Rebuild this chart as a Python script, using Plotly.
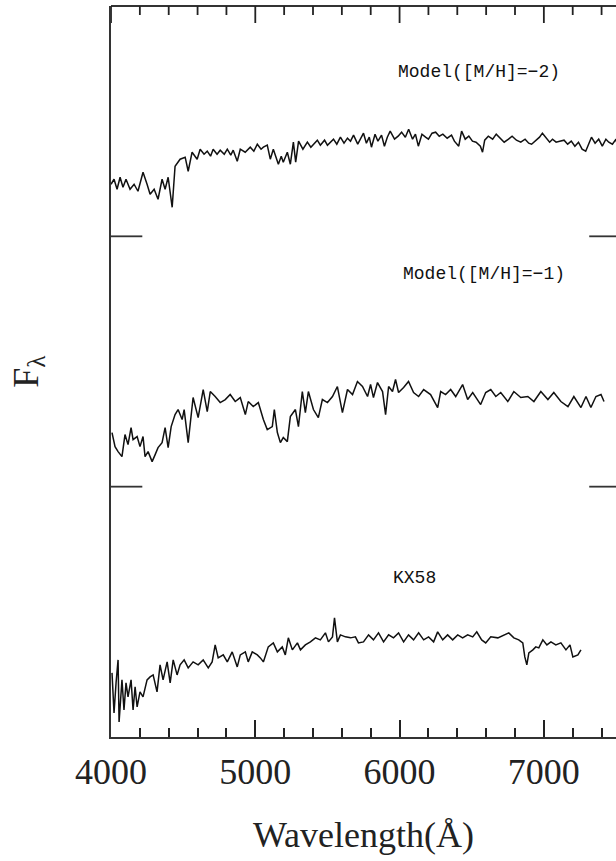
import plotly.graph_objects as go

# ---------------- data ----------------
# Model [M/H] = -2 (top spectrum, offset flux units)
wl_m2 = [4000, 4021, 4042, 4063, 4083, 4104, 4132, 4160, 4187, 4222, 4250, 4271, 4299, 4326,
         4354, 4375, 4396, 4424, 4444, 4479, 4514, 4535, 4562, 4597, 4618, 4645, 4667, 4690,
         4708, 4735, 4757, 4785, 4806, 4830, 4847, 4875, 4896, 4930, 4965, 4990, 5014, 5040,
         5056, 5083, 5104, 5125, 5160, 5180, 5194, 5222, 5243, 5264, 5280, 5300, 5330, 5361,
         5385, 5403, 5430, 5451, 5480, 5500, 5542, 5565, 5590, 5615, 5639, 5660, 5681, 5710,
         5735, 5750, 5770, 5790, 5805, 5830, 5850, 5875, 5895, 5915, 5935, 5965, 5990, 6014,
         6040, 6063, 6090, 6110, 6130, 6155, 6180, 6200, 6225, 6250, 6275, 6300, 6330, 6360,
         6380, 6410, 6430, 6455, 6480, 6505, 6530, 6560, 6575, 6590, 6615, 6645, 6670, 6700,
         6725, 6755, 6780, 6810, 6840, 6870, 6895, 6915, 6945, 6970, 6990, 7015, 7040, 7060,
         7085, 7110, 7140, 7165, 7190, 7215, 7240, 7265, 7290, 7310, 7330, 7355, 7380, 7405,
         7430, 7450, 7475, 7500, 7520]
fx_m2 = [55.2, 55.7, 54.7, 55.9, 54.9, 55.7, 54.7, 55.2, 54.5, 56.4, 55.2, 54.2, 54.7, 53.7,
         55.7, 54.7, 55.9, 52.9, 57.0, 57.7, 57.9, 56.5, 58.4, 57.7, 58.7, 58.2, 58.5, 58.0,
         58.7, 58.2, 58.6, 58.2, 58.7, 58.1, 58.6, 57.5, 58.7, 58.4, 58.9, 58.5, 59.2, 58.7,
         58.9, 59.1, 57.7, 58.7, 57.2, 58.0, 57.4, 58.4, 57.2, 59.4, 57.4, 59.5, 58.7, 59.4,
         58.9, 59.2, 59.6, 59.1, 59.6, 59.1, 59.7, 59.2, 59.9, 59.3, 59.8, 59.5, 60.1, 59.2,
         59.9, 60.3, 59.3, 59.9, 58.9, 60.2, 59.5, 60.1, 59.0, 59.9, 60.5, 59.7, 60.0, 60.4,
         59.9, 60.7, 59.7, 60.2, 59.0, 60.2, 59.9, 59.7, 60.3, 60.4, 60.0, 60.2, 59.8, 60.1,
         59.5, 59.0, 60.5, 59.7, 60.0, 59.5, 59.4, 59.0, 58.4, 59.6, 60.0, 59.7, 60.2, 59.8,
         59.4, 59.7, 60.0, 59.6, 59.4, 59.7, 59.3, 59.2, 59.6, 59.9, 60.3, 59.8, 59.4, 59.7,
         59.4, 59.5, 59.6, 59.2, 59.5, 59.0, 59.4, 58.7, 58.5, 59.2, 59.9, 59.3, 59.7, 59.0,
         59.7, 59.4, 59.2, 59.7, 58.4]

# Model [M/H] = -1 (middle spectrum)
wl_m1 = [4007, 4028, 4049, 4076, 4097, 4118, 4139, 4153, 4181, 4201, 4222, 4236, 4257, 4285,
         4306, 4326, 4354, 4375, 4396, 4417, 4444, 4465, 4493, 4507, 4535, 4569, 4604, 4639,
         4667, 4688, 4722, 4757, 4792, 4826, 4861, 4896, 4931, 4951, 4986, 5021, 5056, 5083,
         5118, 5132, 5153, 5174, 5194, 5222, 5243, 5278, 5299, 5326, 5347, 5368, 5403, 5437,
         5465, 5500, 5535, 5569, 5604, 5639, 5674, 5708, 5743, 5778, 5799, 5819, 5847, 5882,
         5903, 5924, 5951, 5972, 5993, 6028, 6062, 6097, 6132, 6167, 6215, 6264, 6285, 6319,
         6354, 6389, 6437, 6472, 6507, 6542, 6562, 6597, 6632, 6667, 6701, 6750, 6792, 6840,
         6889, 6931, 6979, 7028, 7069, 7118, 7167, 7208, 7257, 7292, 7326, 7361, 7396, 7417]
fx_m1 = [30.4, 29.0, 28.5, 28.0, 30.2, 29.2, 30.9, 29.7, 30.0, 29.0, 30.0, 28.0, 28.5, 27.5,
         28.2, 28.9, 29.4, 30.9, 28.9, 31.0, 32.2, 32.7, 31.7, 32.7, 29.4, 33.9, 31.9, 34.7,
         32.5, 34.5, 34.0, 33.4, 33.7, 34.2, 33.5, 33.9, 32.2, 33.5, 33.0, 33.4, 31.7, 30.7,
         31.0, 32.7, 30.4, 29.4, 29.9, 29.5, 32.0, 32.7, 31.0, 34.5, 32.4, 34.5, 32.7, 31.9,
         33.7, 33.4, 34.0, 35.0, 32.4, 34.7, 34.2, 35.5, 35.0, 34.0, 35.2, 33.9, 35.4, 34.5,
         32.2, 35.0, 34.5, 35.7, 34.4, 34.9, 35.5, 34.4, 34.0, 34.7, 34.2, 32.9, 34.5, 34.2,
         34.7, 34.0, 35.2, 33.7, 34.4, 33.7, 33.2, 34.4, 34.7, 34.0, 34.4, 33.5, 34.5, 33.9,
         34.0, 33.5, 34.5, 33.7, 34.4, 33.5, 33.0, 34.0, 32.9, 34.0, 32.9, 34.0, 34.2, 33.5]

# KX58 (bottom spectrum)
wl_kx = [4007, 4021, 4035, 4049, 4056, 4076, 4090, 4104, 4118, 4139, 4153, 4167, 4181, 4201,
         4222, 4250, 4271, 4292, 4319, 4340, 4361, 4389, 4410, 4431, 4458, 4479, 4507, 4535,
         4569, 4604, 4639, 4674, 4701, 4722, 4743, 4778, 4806, 4840, 4875, 4896, 4931, 4951,
         4979, 5014, 5035, 5056, 5090, 5125, 5153, 5187, 5208, 5229, 5257, 5292, 5313, 5347,
         5382, 5417, 5451, 5486, 5507, 5535, 5549, 5569, 5590, 5625, 5660, 5694, 5715, 5750,
         5785, 5819, 5854, 5889, 5924, 5958, 5993, 6028, 6062, 6097, 6132, 6167, 6201, 6236,
         6264, 6299, 6333, 6368, 6403, 6437, 6472, 6507, 6535, 6569, 6597, 6632, 6681, 6722,
         6757, 6792, 6826, 6854, 6868, 6882, 6896, 6924, 6944, 6965, 6993, 7021, 7049, 7083,
         7118, 7153, 7181, 7201, 7236, 7257]
fx_kx = [6.4, 2.4, 5.4, 7.7, 1.5, 5.7, 2.7, 5.4, 4.0, 5.7, 2.7, 5.0, 3.0, 4.5,
         4.0, 5.7, 6.0, 6.2, 4.5, 7.2, 5.7, 7.5, 5.4, 7.7, 6.2, 7.2, 7.7, 6.9,
         7.5, 7.2, 7.7, 6.9, 7.5, 9.2, 7.9, 8.2, 7.5, 8.5, 7.0, 8.2, 8.5, 7.5,
         8.5, 8.2, 7.9, 7.5, 9.0, 9.4, 8.5, 9.0, 8.2, 9.9, 8.7, 9.4, 8.7, 9.2,
         9.5, 9.9, 9.7, 10.4, 9.5, 10.0, 11.9, 9.5, 10.2, 10.0, 9.9, 10.0, 9.4, 9.5,
         10.2, 9.7, 10.4, 9.5, 10.2, 9.9, 10.4, 9.5, 10.2, 9.7, 10.4, 9.7, 10.0, 9.5,
         10.5, 9.7, 10.2, 9.7, 10.2, 9.9, 10.2, 10.0, 10.5, 9.7, 9.4, 10.0, 9.9, 10.2,
         10.4, 9.9, 9.7, 9.4, 8.0, 7.2, 8.4, 8.7, 9.0, 8.9, 9.7, 9.2, 9.5, 9.2,
         9.4, 8.7, 9.2, 8.0, 8.2, 8.7]

labels = ["Model([M/H]=\u22122)", "Model([M/H]=\u22121)", "KX58"]
label_wl = [6549, 6583, 6104]
label_fx = [66.4, 46.2, 15.9]
separators = [50.0, 25.0]
x_ticks = [4000, 5000, 6000, 7000]
minor_step = 200

# ---------------- figure ----------------
fig = go.Figure()
for wl, fx in [(wl_m2, fx_m2), (wl_m1, fx_m1), (wl_kx, fx_kx)]:
    fig.add_trace(go.Scatter(x=wl, y=fx, mode="lines",
                             line=dict(color="#111", width=1.5),
                             showlegend=False, hoverinfo="skip"))

for t, lx, ly in zip(labels, label_wl, label_fx):
    fig.add_annotation(x=lx, y=ly, xref="x", yref="y", text=t, showarrow=False,
                       font=dict(family="Liberation Mono", size=18, color="#111"),
                       xanchor="center", yanchor="middle")

for s in separators:
    fig.add_shape(type="line", xref="paper", yref="y", x0=0, x1=0.062, y0=s, y1=s,
                  line=dict(color="#333", width=1.8))
    fig.add_shape(type="line", xref="paper", yref="y", x0=0.947, x1=1.0, y0=s, y1=s,
                  line=dict(color="#333", width=1.8))

# top frame line with inward ticks (mirror of the bottom axis)
fig.add_shape(type="line", xref="paper", yref="paper", x0=0, x1=1, y0=1, y1=1,
              line=dict(color="#333", width=1.8), layer="above")
major_len = 17 / 731
minor_len = 9 / 731
for v in range(4000, 7501, minor_step):
    ln = major_len if v in x_ticks else minor_len
    fig.add_shape(type="line", xref="x", yref="paper", x0=v, x1=v, y0=1, y1=1 - ln,
                  line=dict(color="#222", width=1.8), layer="above")

# axis titles
fig.add_annotation(xref="paper", yref="paper", x=0.5, y=-0.134,
                   text="Wavelength(\u00c5)", showarrow=False,
                   font=dict(family="Liberation Serif", size=36, color="#222"),
                   xanchor="center", yanchor="middle")
fig.add_annotation(xref="paper", yref="paper", x=-0.164, y=0.5,
                   text="F<sub>\u03bb</sub>", showarrow=False, textangle=-90,
                   font=dict(family="Liberation Serif", size=36, color="#222"),
                   xanchor="center", yanchor="middle")

fig.update_layout(
    width=616, height=861,
    margin=dict(l=111, r=0, t=6, b=124),
    paper_bgcolor="white", plot_bgcolor="white",
    xaxis=dict(range=[4000, 7500], tickvals=x_ticks, ticktext=[str(v) for v in x_ticks],
               ticks="inside", ticklen=17, tickwidth=1.8, tickcolor="#222",
               minor=dict(dtick=minor_step, tick0=4000, ticks="inside", ticklen=9,
                          tickwidth=1.8, tickcolor="#222", showgrid=False),
               showline=True, linecolor="#333", linewidth=1.8, mirror=False,
               showgrid=False, zeroline=False,
               tickfont=dict(family="Liberation Serif", size=36, color="#222"),
               ticklabelstandoff=2),
    yaxis=dict(range=[0, 73], showticklabels=False, ticks="",
               showline=True, linecolor="#333", linewidth=1.8, mirror=False,
               showgrid=False, zeroline=False),
)

fig.write_html("out.html")
